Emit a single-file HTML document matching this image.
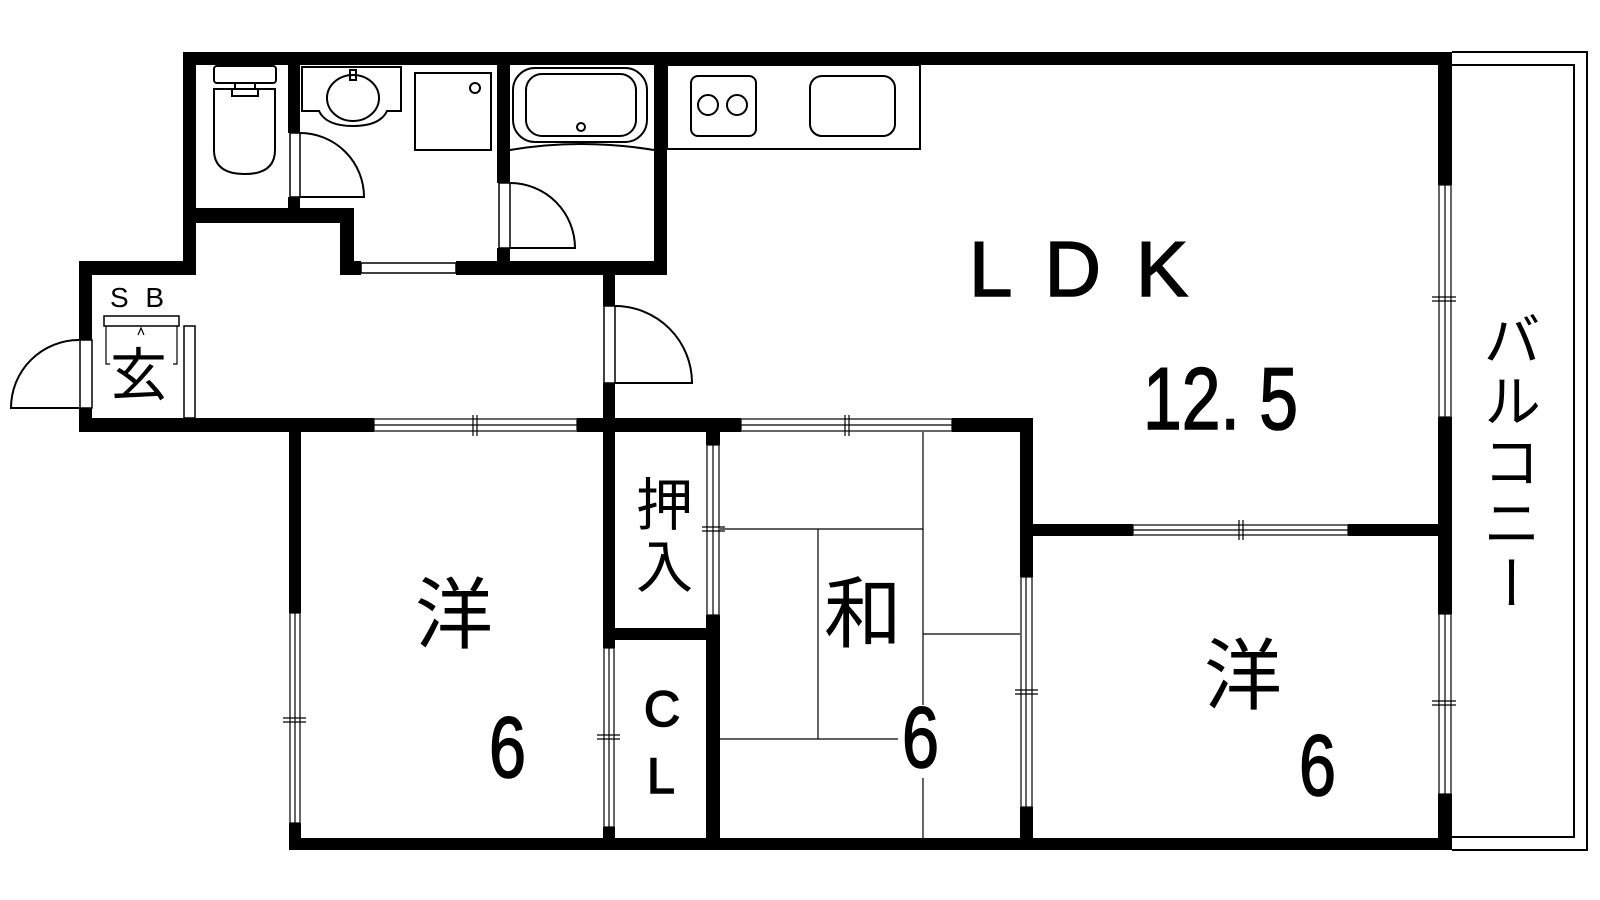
<!DOCTYPE html>
<html><head><meta charset="utf-8"><style>
html,body{margin:0;padding:0;background:#fff;}
#w{position:relative;width:1600px;height:900px;overflow:hidden;}
svg{position:absolute;left:0;top:0;}
text{font-family:"Liberation Sans","Noto Sans CJK JP",sans-serif;fill:#000;}
.j{font-family:"Noto Sans CJK JP","Liberation Sans",sans-serif;}
.b{stroke:#000;stroke-width:1.6;}
#bal{position:absolute;left:1480px;top:310px;width:64px;writing-mode:vertical-rl;font-family:"Noto Sans CJK JP",sans-serif;font-size:58px;line-height:64px;letter-spacing:3px;}
</style></head><body><div id="w">
<svg width="1600" height="900" viewBox="0 0 1600 900">
<g fill="none" stroke="#000" stroke-width="2">
<path d="M1452 52 H1587 V850 H1452"/>
<path d="M1452 65 H1574 V837 H1452"/>
<rect x="667" y="65" width="253" height="84"/>
<rect x="691" y="76" width="65" height="60" rx="7"/>
<circle cx="708" cy="105" r="10"/><circle cx="737" cy="105" r="10"/>
<rect x="810" y="76" width="85" height="60" rx="12"/>
<rect x="513" y="68" width="134" height="74" rx="22"/>
<rect x="526" y="74" width="110" height="62" rx="16"/>
<circle cx="581" cy="127" r="4"/>
<path d="M510 150 Q580 138 654 150"/>
<rect x="415" y="73" width="76" height="77"/>
<circle cx="475" cy="88" r="5"/>
<path d="M302 67 H401 V111 H387 Q380 126 353 126 Q326 126 319 111 H302 Z"/>
<ellipse cx="353" cy="98" rx="26" ry="23"/>
<rect x="350" y="70" width="6" height="10"/>
<rect x="214" y="66" width="62" height="17" rx="3"/>
<rect x="235" y="83" width="20" height="6"/>
<path d="M214 89 H275 V150 Q275 174 245 174 Q214 174 214 150 Z"/>
<path d="M232 89 V96 H258 V89"/>
<path d="M300 133 A64 64 0 0 1 364 197 H300"/>
<path d="M510 183 A65 65 0 0 1 575 248 H510"/>
<path d="M615 306 A77 77 0 0 1 692 383 H615"/>
<path d="M79 340 A68 68 0 0 0 11 408 H79"/>
</g>
<g fill="#fff" stroke="#000" stroke-width="1.5">
<rect x="290" y="133" width="10" height="64"/>
<rect x="499" y="183" width="11" height="65"/>
<rect x="604" y="306" width="11" height="77"/>
<rect x="80" y="340" width="12" height="68"/>
<rect x="361" y="263" width="95" height="10"/>
<rect x="104" y="316" width="75" height="10"/>
<rect x="184" y="326" width="11" height="92"/>
</g>
<g fill="#000">
<rect x="183" y="52" width="1269" height="13"/>
<rect x="183" y="52" width="13" height="223"/>
<rect x="79" y="261" width="117" height="14"/>
<rect x="79" y="261" width="13" height="79"/>
<rect x="79" y="408" width="13" height="24"/>
<rect x="79" y="418" width="295" height="14"/>
<rect x="577" y="418" width="164" height="14"/>
<rect x="952" y="418" width="81" height="14"/>
<rect x="288" y="65" width="12" height="68"/>
<rect x="288" y="197" width="12" height="11"/>
<rect x="183" y="208" width="171" height="15"/>
<rect x="340" y="208" width="14" height="67"/>
<rect x="340" y="261" width="21" height="14"/>
<rect x="456" y="261" width="211" height="14"/>
<rect x="497" y="65" width="13" height="118"/>
<rect x="497" y="248" width="13" height="13"/>
<rect x="654" y="52" width="13" height="223"/>
<rect x="603" y="261" width="12" height="45"/>
<rect x="603" y="383" width="12" height="265"/>
<rect x="603" y="827" width="12" height="23"/>
<rect x="603" y="628" width="117" height="12"/>
<rect x="706" y="432" width="14" height="13"/>
<rect x="706" y="615" width="14" height="235"/>
<rect x="1020" y="418" width="13" height="159"/>
<rect x="1020" y="807" width="13" height="43"/>
<rect x="1020" y="524" width="113" height="12"/>
<rect x="1348" y="524" width="104" height="12"/>
<rect x="1438" y="52" width="14" height="133"/>
<rect x="1438" y="417" width="14" height="197"/>
<rect x="1438" y="794" width="14" height="56"/>
<rect x="289" y="432" width="12" height="181"/>
<rect x="289" y="823" width="12" height="27"/>
<rect x="289" y="838" width="1163" height="12"/>
</g>
<g fill="#fff" stroke="#000" stroke-width="1.2">
<rect x="374" y="419" width="203" height="12"/><line x1="374" y1="425" x2="577" y2="425"/>
<rect x="741" y="419" width="211" height="12"/><line x1="741" y1="425" x2="952" y2="425"/>
<rect x="1133" y="525" width="215" height="10"/><line x1="1133" y1="530" x2="1348" y2="530"/>
<rect x="1439" y="185" width="12" height="232"/><line x1="1445" y1="185" x2="1445" y2="417"/>
<rect x="1439" y="614" width="12" height="180"/><line x1="1445" y1="614" x2="1445" y2="794"/>
<rect x="1021" y="577" width="11" height="230"/><line x1="1026" y1="577" x2="1026" y2="807"/>
<rect x="707" y="445" width="12" height="170"/><line x1="713" y1="445" x2="713" y2="615"/>
<rect x="604" y="648" width="10" height="179"/><line x1="609" y1="648" x2="609" y2="827"/>
<rect x="290" y="613" width="10" height="210"/><line x1="295" y1="613" x2="295" y2="823"/>
</g>
<g stroke="#000" stroke-width="1.2" fill="none">
<path d="M473 415V436M477 415V436"/>
<path d="M845 415V436M849 415V436"/>
<path d="M1239 520V540M1243 520V540"/>
<path d="M1432 297H1456M1432 301H1456"/>
<path d="M1432 701H1456M1432 705H1456"/>
<path d="M1015 690H1038M1015 694H1038"/>
<path d="M702 527H725M702 531H725"/>
<path d="M597 735H620M597 739H620"/>
<path d="M283 718H306M283 722H306"/>
<path d="M923 432V705M923 778V838"/>
<path d="M720 529H923"/>
<path d="M818 529V739"/>
<path d="M720 739H898"/>
<path d="M923 634H1020"/>
<path d="M106 326V364H110M177 326V364H173"/>
<path d="M138 335L141 328L144 335"/>
</g>
<text class="b" x="969" y="296" font-size="78" textLength="219" lengthAdjust="spacing">L D K</text>
<text class="b" x="1143" y="429" font-size="88" textLength="155" lengthAdjust="spacingAndGlyphs">12. 5</text>
<text class="j" x="415" y="642" font-size="78">洋</text>
<text class="b" x="489" y="777" font-size="86" textLength="37" lengthAdjust="spacingAndGlyphs">6</text>
<text class="j" x="636" y="525" font-size="57">押</text>
<text class="j" x="636" y="587" font-size="57">入</text>
<text class="b" x="644" y="726" font-size="50">C</text>
<text class="b" x="647" y="793" font-size="50">L</text>
<text class="j" x="824" y="641" font-size="78">和</text>
<text class="b" x="902" y="767" font-size="86" textLength="37" lengthAdjust="spacingAndGlyphs">6</text>
<text class="j" x="1204" y="703" font-size="78">洋</text>
<text class="b" x="1299" y="795" font-size="86" textLength="37" lengthAdjust="spacingAndGlyphs">6</text>
<text x="110" y="307" font-size="28" textLength="54" lengthAdjust="spacing">S B</text>
<text class="j" x="110" y="395" font-size="57">玄</text>
</svg>
<div id="bal">バルコニー</div>
</div></body></html>
